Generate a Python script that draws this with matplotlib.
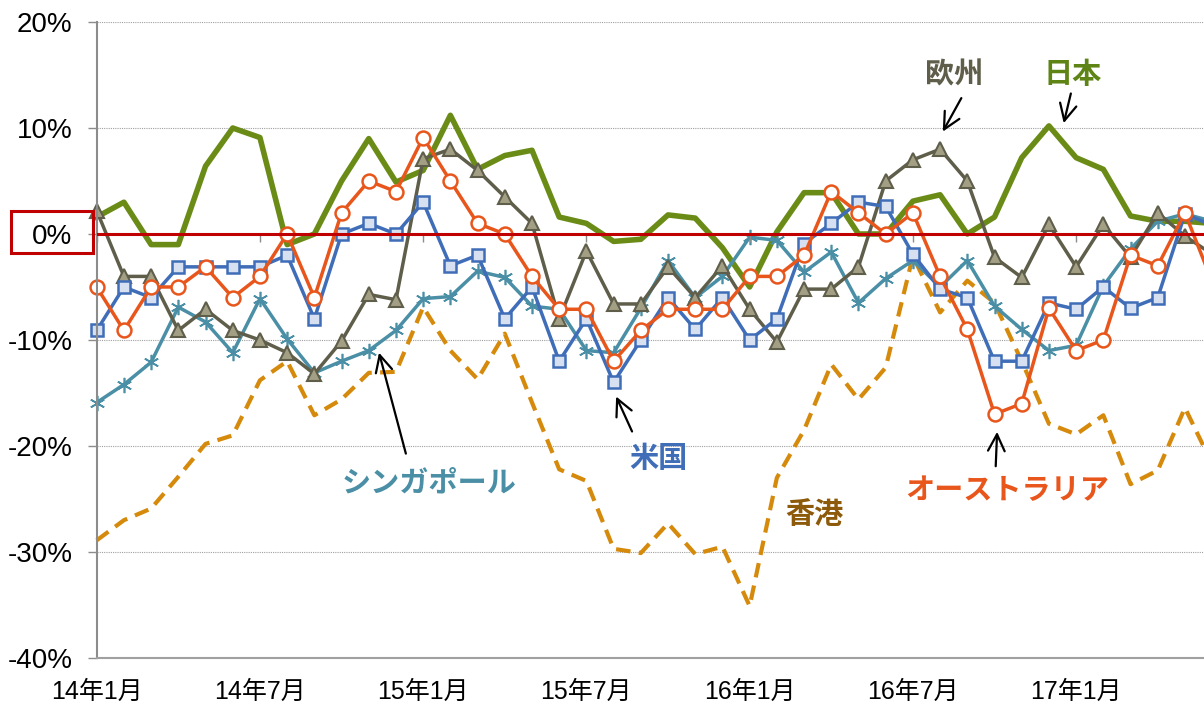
import matplotlib
matplotlib.use('Agg')
import matplotlib.pyplot as plt
from matplotlib.patches import Rectangle
import numpy as np

plt.rcParams['font.family'] = ['Liberation Sans', 'Noto Sans CJK JP']

# monthly values (%) from 14年1月
japan = [1.6, 3.0, -1.0, -1.0, 6.4, 10.0, 9.1, -1.0, 0.0, 5.0, 9.0, 4.9, 6.0, 11.2,
         6.1, 7.4, 7.9, 1.6, 1.0, -0.7, -0.5, 1.8, 1.5, -1.3, -5.0, 0.2, 3.9, 3.9,
         0.0, 0.0, 3.1, 3.7, 0.0, 1.6, 7.2, 10.2, 7.2, 6.1, 1.7, 1.2, 1.2, 1.0]
europe = [2.2, -4.0, -4.0, -9.1, -7.1, -9.1, -10.0, -11.2, -13.2, -10.1, -5.7, -6.2,
          7.1, 8.0, 6.0, 3.5, 1.0, -8.0, -1.6, -6.6, -6.6, -3.1, -6.0, -3.0, -7.1,
          -10.2, -5.2, -5.2, -3.1, 5.0, 7.0, 8.0, 5.0, -2.2, -4.1, 0.9, -3.1, 0.9,
          -2.2, 2.0, -0.2, -1.9]
usa = [-9.1, -5.0, -6.0, -3.1, -3.1, -3.1, -3.1, -2.0, -8.0, 0.0, 1.0, 0.0, 3.0, -3.0,
       -2.0, -8.0, -5.0, -12.0, -8.0, -14.0, -10.0, -6.0, -9.0, -6.0, -10.0, -8.0,
       -0.9, 1.0, 3.0, 2.6, -1.9, -5.2, -6.0, -12.0, -12.0, -6.5, -7.1, -5.0, -7.0,
       -6.0, 1.9, 0.8]
australia = [-5.0, -9.1, -5.0, -5.0, -3.1, -6.0, -4.0, 0.0, -6.0, 2.0, 5.0, 4.0, 9.1,
             5.0, 1.0, 0.0, -4.0, -7.1, -7.1, -12.0, -9.1, -7.1, -7.1, -7.1, -4.0,
             -4.0, -2.0, 4.0, 2.0, 0.0, 2.0, -4.0, -9.0, -17.0, -16.0, -7.0, -11.0,
             -10.0, -2.0, -3.0, 2.0, -4.5]
singapore = [-15.9, -14.2, -12.1, -6.9, -8.3, -11.2, -6.1, -9.9, -13.1, -12.0, -11.0,
             -9.1, -6.1, -5.9, -3.5, -4.1, -6.8, -7.1, -11.0, -11.2, -7.0, -2.5, -6.0,
             -4.0, -0.3, -0.6, -3.6, -1.7, -6.5, -4.2, -2.5, -5.0, -2.5, -6.8, -9.0,
             -11.0, -10.5, -4.9, -1.4, 1.2, 1.9, 1.2]
hongkong = [-28.9, -27.0, -25.9, -22.9, -19.8, -19.0, -13.8, -12.0, -17.1, -15.6,
            -13.1, -13.0, -6.9, -11.0, -13.7, -9.4, -15.9, -22.2, -23.3, -29.7, -30.1,
            -27.3, -30.2, -29.5, -35.1, -23.0, -18.5, -12.3, -15.6, -12.6, -2.1, -7.4,
            -4.4, -6.5, -12.0, -17.9, -18.9, -17.1, -23.6, -22.3, -16.4, -21.7]

tick_pos = [0, 6, 12, 18, 24, 30, 36]
tick_labels = ['14年1月', '14年7月', '15年1月', '15年7月', '16年1月', '16年7月', '17年1月']

months = np.arange(len(japan))

fig = plt.figure(figsize=(12.04, 7.08), dpi=100)
ax = fig.add_axes([96.7 / 1204, 50 / 708, (1204 - 96.7) / 1204, 636 / 708])

# series (later ones on top)
ax.plot(months, hongkong, color='#D68A0C', lw=3, dashes=(3.5, 2), clip_on=False, zorder=2)
ax.plot(months, japan, color='#6A8C17', lw=4, clip_on=False, zorder=2.1)
ax.plot(months, singapore, color='#4A8FA6', lw=2.5, marker=(6, 2, 0), ms=11, mew=1.2,
        clip_on=False, zorder=2.2)
ax.plot(months, europe, color='#5F5E4B', lw=2.5, marker='^', ms=10, mfc='#A29F85',
        mec='#5F5E4B', mew=1.5, clip_on=False, zorder=2.3)
ax.plot(months, usa, color='#3F6DB8', lw=2.5, marker='s', ms=8, mfc='#D6E0F0',
        mec='#3F6DB8', mew=1.8, clip_on=False, zorder=2.4)
ax.plot(months, australia, color='#E8561C', lw=2.5, marker='o', ms=10, mfc='white',
        mec='#E8561C', mew=1.8, clip_on=False, zorder=2.5)

ax.axhline(0, color='#C00000', lw=2.2, zorder=5)
# small category ticks hanging from the zero line
ax.vlines(tick_pos, -0.8, 0, color='#8C8C8C', lw=1, zorder=4)

ax.set_xlim(0, 40.7)
ax.set_ylim(-40, 20)
ax.set_yticks(range(-40, 21, 10))
ax.set_yticklabels(['%d%%' % v for v in range(-40, 21, 10)], fontsize=20)
ax.set_xticks(tick_pos)
ax.set_xticklabels(tick_labels, fontsize=18)
ax.tick_params(axis='x', length=0, pad=16)
ax.tick_params(axis='y', length=6.5, width=1, color='#8C8C8C', pad=11)

for v in [-30, -20, -10, 10, 20]:
    ax.axhline(v, color='#A0A0A0', lw=0.8, ls=(0, (1, 1)), zorder=1)

for s in ['top', 'right']:
    ax.spines[s].set_visible(False)
ax.spines['left'].set_color('#8C8C8C')
ax.spines['left'].set_linewidth(1.5)
ax.spines['bottom'].set_color('#A0A0A0')
ax.spines['bottom'].set_linewidth(1.5)

# labels with arrows
arrow = dict(arrowstyle='->', color='black', lw=1.6, mutation_scale=30)
lab = dict(fontsize=21, fontweight='bold', ha='center', va='center',
           family=['Noto Sans CJK JP'])
ax.text(31.51, 15.03, '欧州', color='#5F5E4B', **lab)
ax.annotate('', xy=(31.05, 9.43), xytext=(31.83, 13.05), arrowprops=arrow)
ax.text(35.88, 15.12, '日本', color='#5E8415', **lab)
ax.annotate('', xy=(35.52, 10.2), xytext=(35.83, 13.51), arrowprops=arrow)
ax.text(12.21, -23.46, 'シンガポール', color='#4A8FA6', **lab)
ax.annotate('', xy=(10.35, -10.94), xytext=(11.39, -20.97), arrowprops=arrow)
ax.text(20.63, -21.15, '米国', color='#3F6DB8', **lab)
ax.annotate('', xy=(19.05, -15.09), xytext=(19.72, -18.87), arrowprops=arrow)
ax.text(26.4, -26.39, '香港', color='#8C5A0A', **lab)
ax.text(33.47, -24.12, 'オーストラリア', color='#E8561C', **lab)
ax.annotate('', xy=(33.1, -18.4), xytext=(33.04, -22.17), arrowprops=arrow)

# red box around the 0% label
fig.patches.append(Rectangle((10.7 / 1204, (708 - 252.7) / 708), 82.6 / 1204, 42 / 708,
                             transform=fig.transFigure, fill=False,
                             edgecolor='#C00000', lw=2.2))

fig.savefig('out.png', dpi=100)
plt.close(fig)
